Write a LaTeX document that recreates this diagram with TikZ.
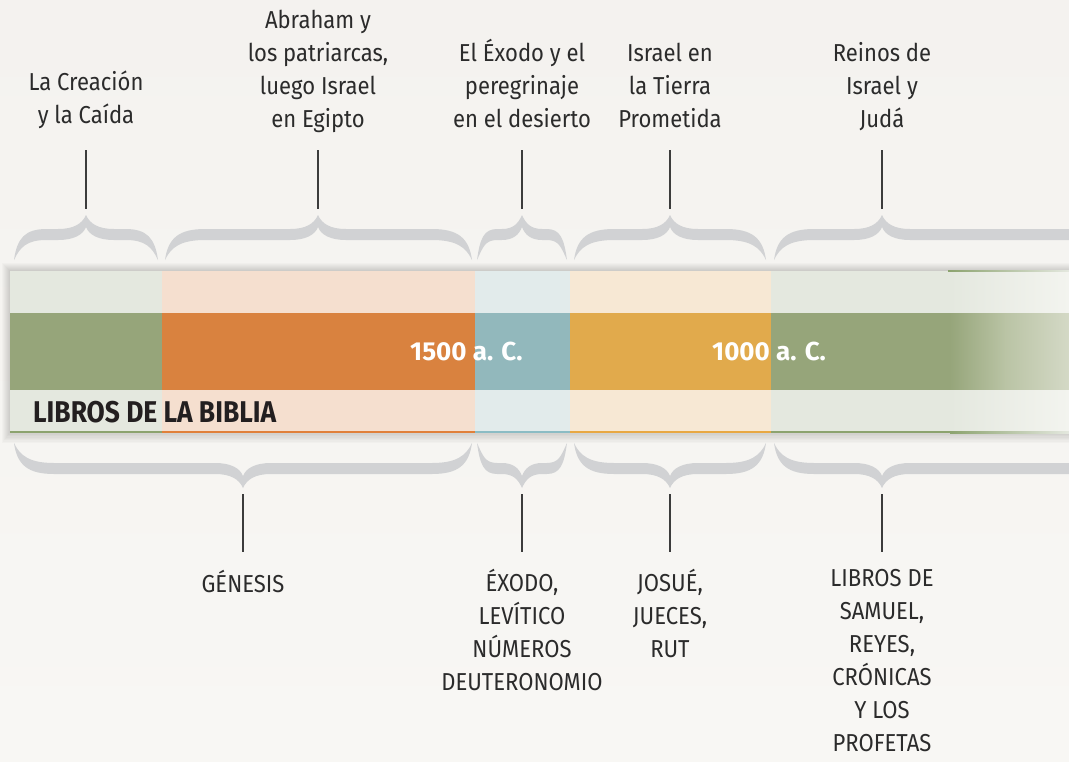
\documentclass[tikz,border=0pt]{standalone}
\usepackage{fontspec}
\setmainfont{Fira Sans}[FakeStretch=0.9]
\newfontfamily\headfont{Fira Sans}[FakeStretch=0.88]
\newfontfamily\datefont{Fira Sans}
\usetikzlibrary{calc}

\definecolor{paper}{HTML}{F8F7F4}
\definecolor{paperTop}{HTML}{F4F2EF}
\definecolor{olive}{HTML}{96A57A}
\definecolor{oliveL}{HTML}{E4E8DF}
\definecolor{oliveLine}{HTML}{8CA36F}
\definecolor{oliveMid}{HTML}{BAC4A5}
\definecolor{oliveEnd}{HTML}{D4D9C6}
\definecolor{oliveLEnd}{HTML}{F3F4EF}
\definecolor{rust}{HTML}{D9823F}
\definecolor{rustL}{HTML}{F5DFCF}
\definecolor{rustLine}{HTML}{E0803A}
\definecolor{sea}{HTML}{92B8BC}
\definecolor{seaL}{HTML}{E2EBEB}
\definecolor{seaLine}{HTML}{8BBCC4}
\definecolor{gold}{HTML}{E1AA4C}
\definecolor{goldL}{HTML}{F7E8D4}
\definecolor{goldLine}{HTML}{E8A843}
\definecolor{braceGray}{HTML}{D1D2D4}
\definecolor{inkGray}{HTML}{2B2B2B}
\definecolor{inkDark}{HTML}{231F20}
\definecolor{tickGray}{HTML}{3C3C3C}

\tikzset{
  toplbl/.style={font=\fontsize{24.5}{33}\selectfont, text=inkGray, align=center,
    anchor=south, inner sep=0pt, execute at end node=\strut},
  botlbl/.style={font=\fontsize{24.5}{33}\selectfont, text=inkGray, align=center,
    anchor=north, inner sep=0pt, execute at begin node=\strut},
  tick/.style={draw=tickGray, line width=1.1pt},
  datelbl/.style={font=\datefont\bfseries\fontsize{26}{30}\selectfont, text=white,
    anchor=base west, inner sep=0pt},
}

% curly brace: left end, tip, right end (x); ends on y=0, tip at y=-45
\newcommand{\gbrace}[3]{%
  \pgfmathsetmacro{\al}{min(40,0.45*(#2-#1))}%
  \pgfmathsetmacro{\bl}{min(28,0.45*(#2-#1))}%
  \pgfmathsetmacro{\ar}{min(40,0.45*(#3-#2))}%
  \pgfmathsetmacro{\br}{min(28,0.45*(#3-#2))}%
  \fill[braceGray] (#1,0)
    .. controls (#1+3,-22) and (#1+0.35*\al,-31) .. (#1+\al,-31)
    -- (#2-\bl,-31)
    .. controls (#2-0.45*\bl,-31) and (#2-4,-36) .. (#2,-45)
    .. controls (#2+4,-36) and (#2+0.45*\br,-31) .. (#2+\br,-31)
    -- (#3-\ar,-31)
    .. controls (#3-0.35*\ar,-31) and (#3-3,-22) .. (#3,0)
    .. controls (#3-6,-13) and (#3-0.4*\ar,-20) .. (#3-\ar,-20)
    -- (#2+\br,-20)
    .. controls (#2+0.45*\br,-20) and (#2+3,-25) .. (#2,-33)
    .. controls (#2-3,-25) and (#2-0.45*\bl,-20) .. (#2-\bl,-20)
    -- (#1+\al,-20)
    .. controls (#1+0.4*\al,-20) and (#1+6,-13) .. (#1,0) -- cycle;
}

\begin{document}
\begin{tikzpicture}[x=1pt, y=-1pt]
    \useasboundingbox (0,0) rectangle (1069,761);
    \clip (0,0) rectangle (1069,761);
    \shade[top color=paperTop, bottom color=paper] (0,0) rectangle (1069,761);

    % band shadow
    \foreach \d in {1,...,8}
        \fill[black, opacity=0.02] (10-\d,271-\d) rectangle (1080,432+1.4*\d);

    % top light row
    \fill[oliveL] (10,271) rectangle (162,313);
    \fill[rustL] (162,271) rectangle (475,313);
    \fill[seaL] (475,271) rectangle (570,313);
    \fill[goldL] (570,271) rectangle (771,313);
    \fill[oliveL] (771,271) rectangle (950,313);
    \shade[left color=oliveL, right color=oliveLEnd] (950,271) rectangle (1069,313);
    \shade[left color=oliveLine, right color=oliveL] (948,270) rectangle (1069,271.5);

    % dark row
    \fill[olive] (10,313) rectangle (162,390);
    \fill[rust] (162,313) rectangle (475,390);
    \fill[sea] (475,313) rectangle (570,390);
    \fill[gold] (570,313) rectangle (771,390);
    \fill[olive] (771,313) rectangle (950,390);
    \shade[left color=olive, right color=oliveMid] (950,313) rectangle (1006,390);
    \shade[left color=oliveMid, right color=oliveEnd] (1005.5,313) rectangle (1069,390);

    % bottom light row
    \fill[oliveL] (10,390) rectangle (162,432);
    \fill[rustL] (162,390) rectangle (475,432);
    \fill[seaL] (475,390) rectangle (570,432);
    \fill[goldL] (570,390) rectangle (771,432);
    \fill[oliveL] (771,390) rectangle (950,432);
    \shade[left color=oliveL, right color=oliveLEnd] (950,390) rectangle (1069,432);

    % bottom edge line
    \fill[oliveLine] (10,431) rectangle (162,433);
    \fill[rustLine] (162,431) rectangle (475,433);
    \fill[seaLine] (475,431) rectangle (570,433);
    \fill[goldLine] (570,431) rectangle (771,433);
    \fill[oliveLine] (771,431) rectangle (950,433);
    \shade[left color=oliveLine, right color=oliveL] (950,431) rectangle (1069,433);

    % band texts
    \node[datelbl] (d1500) at (410,360) {1500 a. C.};
    \node[datelbl] (d1000) at (712,360) {1000 a. C.};
    \node[font=\headfont\bfseries\fontsize{30}{34}\selectfont, text=inkDark,
          anchor=base west, inner sep=0pt] (head) at (33,422) {LIBROS DE LA BIBLIA};

    % upper braces
    \begin{scope}[shift={(0,260)}]
        \gbrace{14}{86}{158}
        \gbrace{165}{318}{472}
        \gbrace{477}{522}{567}
        \gbrace{574}{670}{766}
        \gbrace{774}{882}{1300}
    \end{scope}

    % lower braces
    \begin{scope}[shift={(0,443)}, yscale=-1]
        \gbrace{14}{243}{472}
        \gbrace{477}{522}{567}
        \gbrace{574}{670}{766}
        \gbrace{774}{882}{1300}
    \end{scope}

    % brace tips
    \coordinate (tcre) at (86,209);
    \coordinate (tabr) at (318,209);
    \coordinate (texo) at (522,209);
    \coordinate (ttie) at (670,209);
    \coordinate (trei) at (882,209);
    \coordinate (bgen) at (243,494);
    \coordinate (bexo) at (522,494);
    \coordinate (bjos) at (670,494);
    \coordinate (blib) at (882,494);

    % periods
    \node[toplbl] (cre) at (86,134) {La Creación\\y la Caída};
    \node[toplbl] (abr) at (318,138) {Abraham y\\los patriarcas,\\luego Israel\\en Egipto};
    \node[toplbl] (exo) at (522,138) {El Éxodo y el\\peregrinaje\\en el desierto};
    \node[toplbl] (tie) at (670,138) {Israel en\\la Tierra\\Prometida};
    \node[toplbl] (rei) at (882,138) {Reinos de\\Israel y\\Judá};

    % books
    \node[botlbl] (gen) at (243,569) {GÉNESIS};
    \node[botlbl] (exob) at (522,569) {ÉXODO,\\LEVÍTICO\\NÚMEROS\\DEUTERONOMIO};
    \node[botlbl] (jos) at (670,569) {JOSUÉ,\\JUECES,\\RUT};
    \node[botlbl] (lib) at (882,569) {LIBROS DE\\SAMUEL,\\REYES,\\CRÓNICAS\\Y LOS\\PROFETAS};

    % ticks
    \draw[tick] (cre.south |- 0,150) -- (tcre);
    \draw[tick] (abr.south |- 0,150) -- (tabr);
    \draw[tick] (exo.south |- 0,150) -- (texo);
    \draw[tick] (tie.south |- 0,150) -- (ttie);
    \draw[tick] (rei.south |- 0,150) -- (trei);
    \draw[tick] (bgen) -- (gen.north |- 0,552);
    \draw[tick] (bexo) -- (exob.north |- 0,552);
    \draw[tick] (bjos) -- (jos.north |- 0,552);
    \draw[tick] (blib) -- (lib.north |- 0,552);
\end{tikzpicture}
\end{document}
